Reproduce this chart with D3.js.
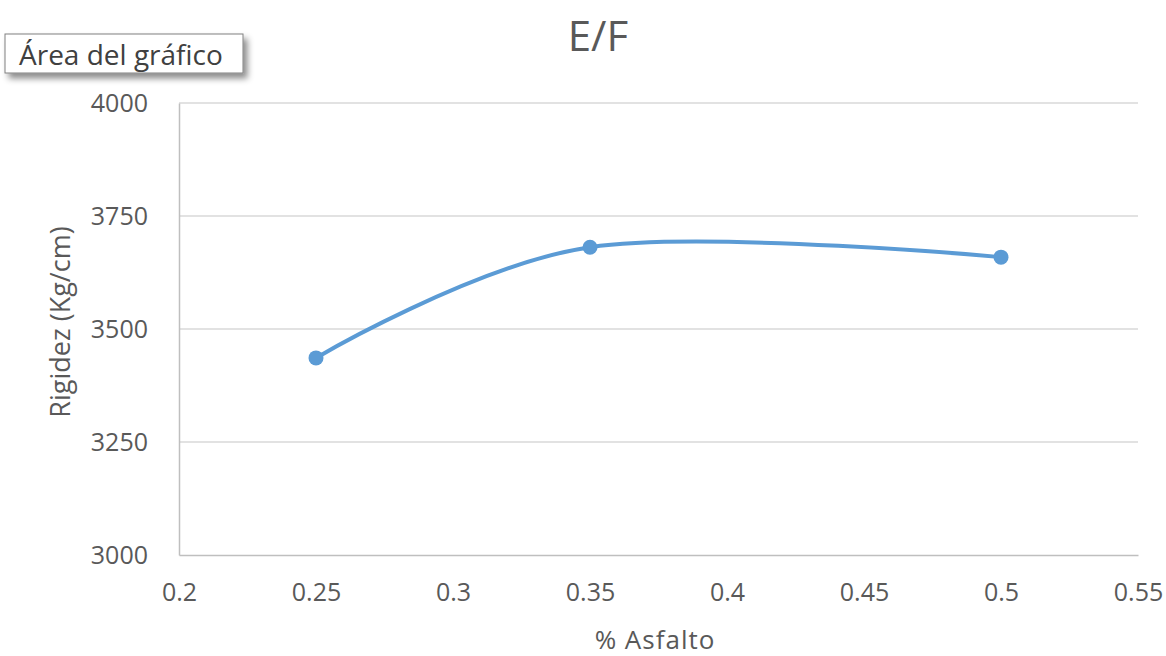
<!DOCTYPE html>
<html>
<head>
<meta charset="utf-8">
<script src="https://cdn.jsdelivr.net/npm/d3@7"></script>
<style>
body { margin: 0; background: #fff; }
text { font-family: "Open Sans", "Noto Sans", sans-serif; }
</style>
</head>
<body>
<script>
let asfalto = [0.25, 0.35, 0.5];
let rigidez = [3436, 3681, 3659];
let xTicks = [0.2, 0.25, 0.3, 0.35, 0.4, 0.45, 0.5, 0.55];
let yTicks = [3000, 3250, 3500, 3750, 4000];

let w = 1166, h = 656;
let padL = 179, padR = 1138, padT = 103, padB = 555;

let svg = d3.select("body").append("svg").attr("width", w).attr("height", h);

let x = d3.scaleLinear().domain([0.2, 0.55]).range([padL, padR]);
let y = d3.scaleLinear().domain([3000, 4000]).range([padB, padT]);

// gridlines
svg.selectAll("line.grid")
	.data(yTicks.slice(1))
	.enter()
	.append("line")
	.attr("x1", padL).attr("x2", padR)
	.attr("y1", d => y(d)).attr("y2", d => y(d))
	.attr("stroke", "#d9d9d9").attr("stroke-width", 1.5);

// axes
let xAxis = svg.append("g").attr("transform", "translate(0," + padB + ")")
	.call(d3.axisBottom(x).tickValues(xTicks).tickSize(0).tickPadding(28).tickFormat(d => String(d)));
let yAxis = svg.append("g").attr("transform", "translate(" + padL + ",0)")
	.call(d3.axisLeft(y).tickValues(yTicks).tickSize(0).tickPadding(31).tickFormat(d => String(d)));

[xAxis, yAxis].forEach(function(g) {
	g.select(".domain").attr("stroke", "#bfbfbf").attr("stroke-width", 1.5);
	g.selectAll("text").attr("fill", "#595959").attr("font-size", "25px");
});

// line
let pts = asfalto.map((d, i) => [d, rigidez[i]]);
let line = d3.line()
	.x(d => x(d[0]))
	.y(d => y(d[1]))
	.curve(d3.curveCardinal.tension(0));

svg.append("path")
	.datum(pts)
	.attr("d", line)
	.attr("fill", "none")
	.attr("stroke", "#5b9bd5")
	.attr("stroke-width", 4)
	.attr("stroke-linecap", "round");

svg.selectAll("circle")
	.data(pts)
	.enter()
	.append("circle")
	.attr("cx", d => x(d[0]))
	.attr("cy", d => y(d[1]))
	.attr("r", 7.5)
	.attr("fill", "#5b9bd5");

// title
svg.append("text")
	.text("E/F")
	.attr("x", 598).attr("y", 51)
	.attr("text-anchor", "middle")
	.attr("font-size", "42px")
	.attr("fill", "#595959");

// axis titles
svg.append("text")
	.text("% Asfalto")
	.attr("x", 655).attr("y", 649)
	.attr("text-anchor", "middle")
	.attr("font-size", "26px")
	.attr("letter-spacing", "1px")
	.attr("fill", "#595959");

svg.append("text")
	.text("Rigidez (Kg/cm)")
	.attr("transform", "translate(70,322) rotate(-90)")
	.attr("text-anchor", "middle")
	.attr("font-size", "27px")
	.attr("fill", "#595959");

// tooltip box
let defs = svg.append("defs");
let f = defs.append("filter").attr("id", "sh").attr("x", "-10%").attr("y", "-30%").attr("width", "130%").attr("height", "180%");
f.append("feDropShadow").attr("dx", 4).attr("dy", 5).attr("stdDeviation", 3).attr("flood-color", "#000").attr("flood-opacity", 0.45);

svg.append("rect")
	.attr("x", 5).attr("y", 34).attr("width", 238).attr("height", 39)
	.attr("fill", "#fff").attr("stroke", "#808080").attr("stroke-width", 1)
	.attr("filter", "url(#sh)");

svg.append("text")
	.text("Área del gráfico")
	.attr("x", 19).attr("y", 65)
	.attr("font-size", "28px")
	.attr("fill", "#404040");
</script>
</body>
</html>
